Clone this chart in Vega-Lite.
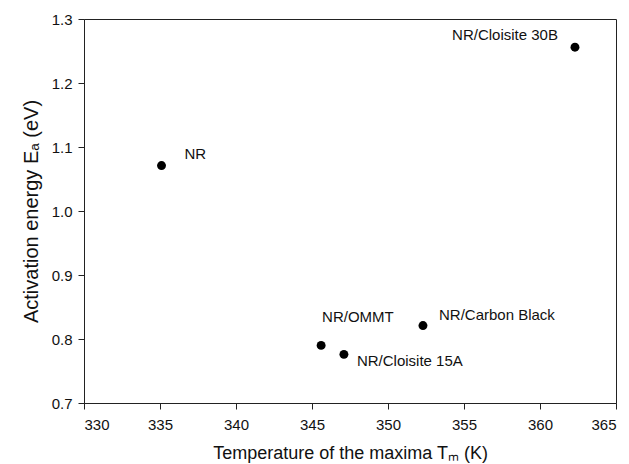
{
  "$schema": "https://vega.github.io/schema/vega-lite/v6.json",
  "autosize": {"type": "none"},
  "padding": {"left": 84, "top": 19, "right": 12, "bottom": 61},
  "width": 532,
  "height": 384,
  "config": {
    "font": "Liberation Sans",
    "view": {"stroke": "#222", "strokeWidth": 1},
    "axis": {
      "grid": false,
      "domainColor": "#222",
      "tickColor": "#222",
      "tickSize": 6,
      "labelFont": "Liberation Sans",
      "labelFontSize": 15,
      "labelColor": "#111",
      "titleFont": "Liberation Sans",
      "titleFontWeight": "normal",
      "titleColor": "#111"
    }
  },
  "data": {
    "values": [
      {"sample": "NR", "T": 335.1, "Ea": 1.071},
      {"sample": "NR/Cloisite 30B", "T": 362.3, "Ea": 1.256},
      {"sample": "NR/Carbon Black", "T": 352.3, "Ea": 0.821},
      {"sample": "NR/OMMT", "T": 345.6, "Ea": 0.790},
      {"sample": "NR/Cloisite 15A", "T": 347.1, "Ea": 0.776}
    ]
  },
  "encoding": {
    "x": {
      "field": "T", "type": "quantitative",
      "scale": {"domain": [330, 365], "nice": false, "zero": false},
      "axis": {"values": [330, 335, 340, 345, 350, 355, 360, 365], "title": "Temperature of the maxima Tₘ (K)", "titleFontSize": 18, "labelPadding": 8, "titlePadding": 12}
    },
    "y": {
      "field": "Ea", "type": "quantitative",
      "scale": {"domain": [0.7, 1.3], "nice": false, "zero": false},
      "axis": {"values": [0.7, 0.8, 0.9, 1.0, 1.1, 1.2, 1.3], "format": ".1f", "title": "Activation energy Eₐ (eV)", "titleFontSize": 20, "labelPadding": 6, "titlePadding": 10}
    }
  },
  "layer": [
    {"mark": {"type": "circle", "size": 80, "color": "black", "opacity": 1}},
    {
      "transform": [{"filter": "datum.sample === 'NR'"}],
      "mark": {"type": "text", "align": "left", "baseline": "middle", "dx": 23, "dy": -12, "fontSize": 15, "color": "#111"},
      "encoding": {"text": {"field": "sample"}}
    },
    {
      "transform": [{"filter": "datum.sample === 'NR/Cloisite 30B'"}],
      "mark": {"type": "text", "align": "right", "baseline": "middle", "dx": -17, "dy": -12, "fontSize": 15, "color": "#111"},
      "encoding": {"text": {"field": "sample"}}
    },
    {
      "transform": [{"filter": "datum.sample === 'NR/Carbon Black'"}],
      "mark": {"type": "text", "align": "left", "baseline": "middle", "dx": 16, "dy": -11, "fontSize": 15, "color": "#111"},
      "encoding": {"text": {"field": "sample"}}
    },
    {
      "transform": [{"filter": "datum.sample === 'NR/OMMT'"}],
      "mark": {"type": "text", "align": "left", "baseline": "middle", "dx": 1, "dy": -28, "fontSize": 15, "color": "#111"},
      "encoding": {"text": {"field": "sample"}}
    },
    {
      "transform": [{"filter": "datum.sample === 'NR/Cloisite 15A'"}],
      "mark": {"type": "text", "align": "left", "baseline": "middle", "dx": 13, "dy": 7, "fontSize": 15, "color": "#111"},
      "encoding": {"text": {"field": "sample"}}
    }
  ]
}
